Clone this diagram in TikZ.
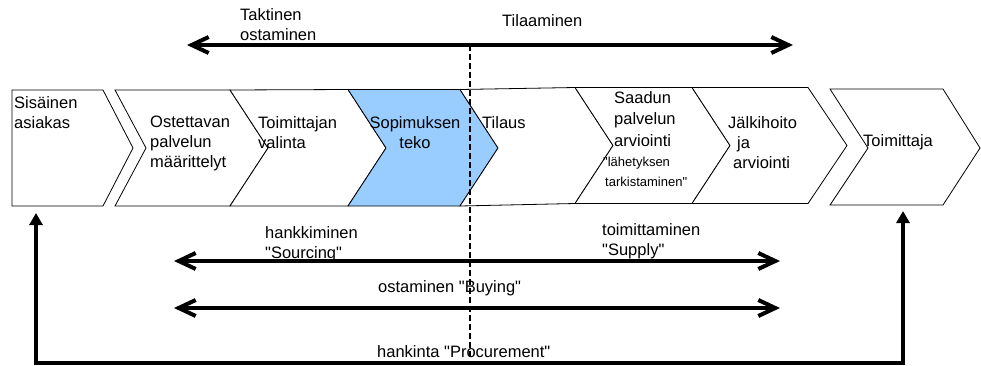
\documentclass[tikz,border=0pt]{standalone}
\usepackage{fontspec}
\setmainfont{Liberation Sans}[Ligatures=TeXOff]
\usetikzlibrary{arrows.meta}
\definecolor{phaseblue}{RGB}{153,204,255}
\tikzset{
  phase/.style={draw=black, line width=0.8pt, fill=white, line join=miter},
  lbl/.style={inner sep=0pt, align=left, anchor=north west, font=\fontsize{16.5}{20}\selectfont},
  smalllbl/.style={lbl, font=\fontsize{13}{20}\selectfont},
  span/.style={line width=4pt, {Straight Barb[length=17pt,width=16pt]}-{Straight Barb[length=17pt,width=16pt]}},
  flow/.style={line width=3.5pt, line join=miter, {Triangle[length=12pt,width=13pt]}-{Triangle[length=12pt,width=13pt]}},
  divider/.style={line width=1.8pt, dash pattern=on 6pt off 3pt}
}
\begin{document}
\begin{tikzpicture}[x=1pt,y=-1pt]
\useasboundingbox (0,0) rectangle (981,365);

% process chevrons, left to right
\draw[phase] (12,90) -- (103,90) -- (133,148) -- (103,206) -- (12,206) -- cycle;
\draw[phase] (115,90) -- (230,90) -- (268,148) -- (230,206) -- (115,206) -- (146,148) -- cycle;
\draw[phase] (230,90) -- (348,89.5) -- (386,148) -- (348,206) -- (230,206) -- (268,148) -- cycle;
\draw[phase, fill=phaseblue] (348,89.5) -- (460,89.5) -- (498,148) -- (460,206) -- (348,206) -- (386,148) -- cycle;
\draw[phase] (460,89.5) -- (575,87.5) -- (613,145.5) -- (575,203.5) -- (460,206) -- (498,148) -- cycle;
\draw[phase] (575,87.5) -- (692,87.5) -- (730,145.5) -- (692,203.5) -- (575,203.5) -- (613,145.5) -- cycle;
\draw[phase] (692,87.5) -- (808,87.5) -- (847,145.5) -- (808,203.5) -- (692,203.5) -- (730,145.5) -- cycle;
\draw[phase] (830,89) -- (943,89) -- (980,148) -- (943,205) -- (830,205) -- (868,148) -- cycle;

% phase labels
\node[lbl] (sisainen) at (14,96) {Sisäinen\\asiakas};
\node[lbl] (ostettavan) at (150,116) {Ostettavan\\palvelun\\määrittelyt};
\node[lbl] (valinta) at (258,116) {Toimittajan\\valinta};
\node[lbl, align=center, anchor=north] (sopimus) at (415,116) {Sopimuksen\\teko};
\node[lbl] (tilaus) at (482,116) {Tilaus};
\node[lbl, font=\fontsize{16.5}{21.7}\selectfont] (saadun) at (614,91) {Saadun\\palvelun\\arviointi};
\node[smalllbl] (lahetys) at (603,157) {"lähetyksen\\\hspace*{2pt}tarkistaminen"};
\node[lbl] (jalkihoito) at (728,116) {Jälkihoito\\\hspace*{9pt}ja\\\hspace*{5pt}arviointi};
\node[lbl, anchor=west] (toimittaja) at (863,142) {Toimittaja};

% span labels
\node[lbl] (taktinen) at (240,8) {Taktinen\\ostaminen};
\node[lbl, anchor=west] (tilaaminen) at (502,21) {Tilaaminen};
\node[lbl] (hankkiminen) at (265,226) {hankkiminen\\"Sourcing"};
\node[lbl] (toimittaminen) at (602,223) {toimittaminen\\"Supply"};
\node[lbl, anchor=west] (buying) at (378,288) {ostaminen "Buying"};
\node[lbl, anchor=west] (procurement) at (377,352) {hankinta "Procurement"};

% span end points
\coordinate (topL) at (187,45);
\coordinate (topR) at (793,45);
\coordinate (srcL) at (174,261);
\coordinate (srcR) at (780,261);
\coordinate (buyL) at (174,308);
\coordinate (buyR) at (780,308);
\coordinate (custUp) at (36,213);
\coordinate (custLow) at (36,363);
\coordinate (suppLow) at (903,363);
\coordinate (suppUp) at (903,211);
\coordinate (divTop) at (470,45);
\coordinate (divBot) at (470,358);

% spans
\draw[span] (topL) -- (topR);
\draw[span] (srcL) -- (srcR);
\draw[span] (buyL) -- (buyR);
\draw[flow] (custUp) -- (custLow) -- (suppLow) -- (suppUp);

% divider between tactical buying and ordering
\draw[divider] (divTop) -- (divBot);
\end{tikzpicture}
\end{document}
